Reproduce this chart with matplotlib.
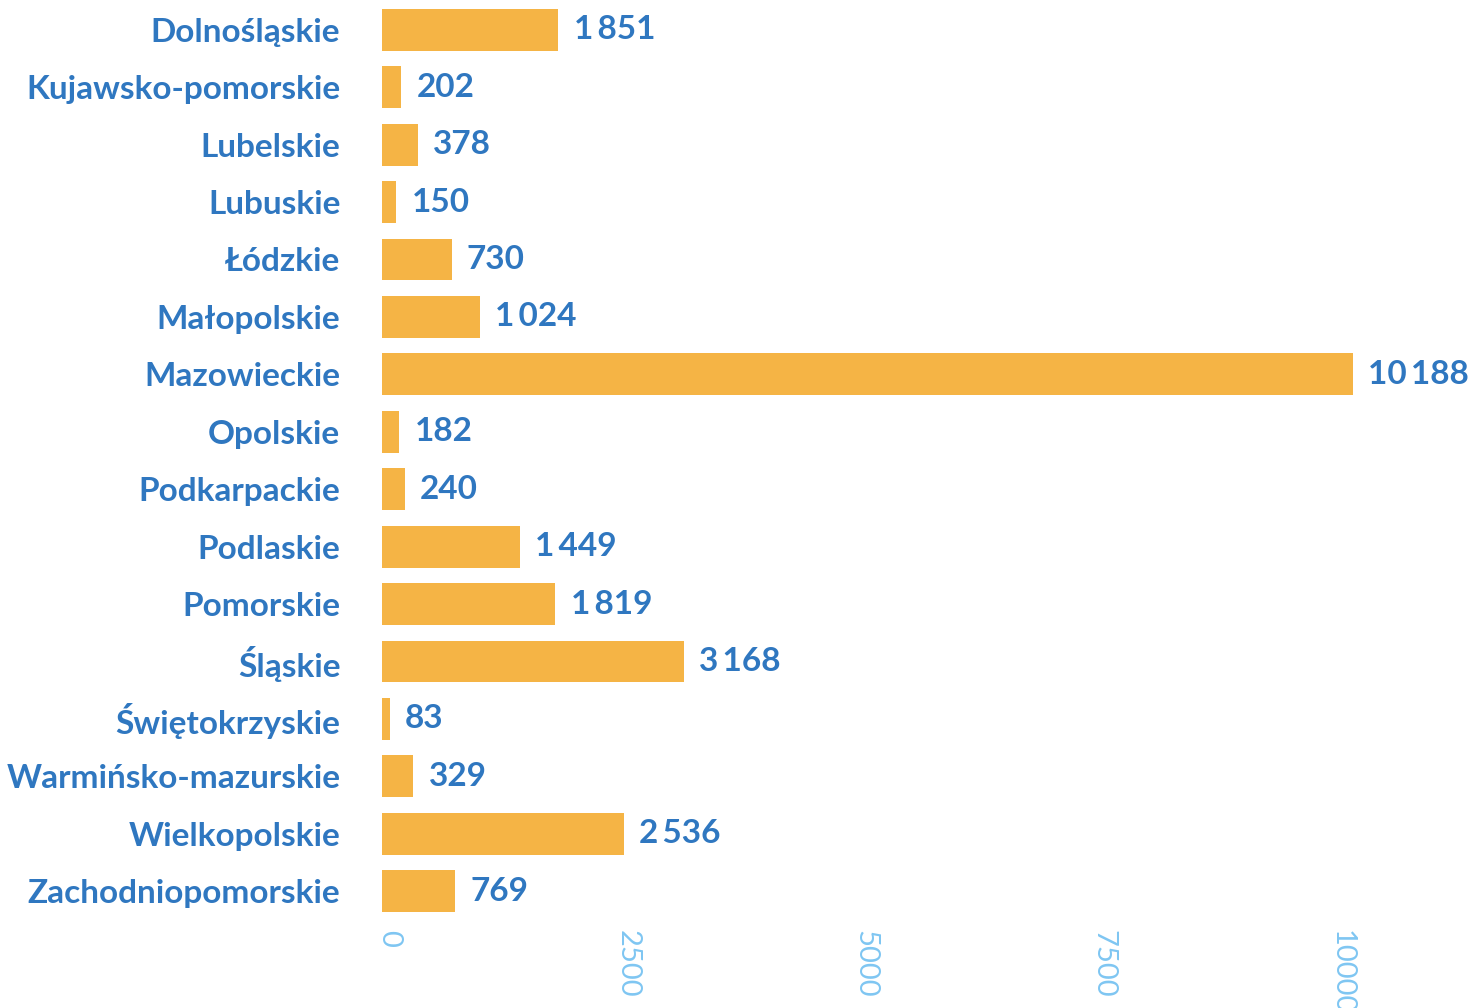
import matplotlib.pyplot as plt
import matplotlib.transforms as mtransforms

# voivodeships and counts, top to bottom as in the chart
regions = [
    "Dolnośląskie", "Kujawsko-pomorskie", "Lubelskie", "Lubuskie", "Łódzkie",
    "Małopolskie", "Mazowieckie", "Opolskie", "Podkarpackie", "Podlaskie",
    "Pomorskie", "Śląskie", "Świętokrzyskie", "Warmińsko-mazurskie",
    "Wielkopolskie", "Zachodniopomorskie",
]
counts = [1851, 202, 378, 150, 730, 1024, 10188, 182, 240, 1449, 1819, 3168,
          83, 329, 2536, 769]
xticks = [0, 2500, 5000, 7500, 10000]

bar_color = "#F5B445"
text_color = "#2F77C0"
tick_color = "#7FC6F2"

plt.rcParams["font.family"] = ["Lato", "DejaVu Sans"]

fig = plt.figure(figsize=(14.7, 10.08), dpi=100)
ax = fig.add_axes([382 / 1470, 88 / 1008, 1048 / 1470, 919 / 1008])

ypos = list(range(len(regions)))
ax.barh(ypos, counts, height=0.73, color=bar_color)
ax.set_ylim(len(regions) - 0.5, -0.5)
ax.set_xlim(0, 11000)

ax.set_yticks(ypos)
ax.set_yticklabels(regions, fontsize=24, fontweight="bold", color=text_color)
ax.tick_params(axis="both", length=0)
ax.tick_params(axis="y", pad=30)

# x tick labels drawn by hand, rotated to read top-down
ax.set_xticks(xticks)
ax.set_xticklabels([])
tick_trans = ax.get_xaxis_transform() + mtransforms.ScaledTranslation(
    -0.06, -0.10, fig.dpi_scale_trans)
for t in xticks:
    ax.text(t, 0, str(t), transform=tick_trans, rotation=270, fontsize=21,
            color=tick_color, ha="left", va="top", clip_on=False)

for y, v in zip(ypos, counts):
    label = f"{v:,}".replace(",", "\u2009")
    ax.annotate(label, (v, y), xytext=(11, 0), textcoords="offset points",
                va="center", ha="left", fontsize=24, fontweight="bold",
                color=text_color)

for s in ax.spines.values():
    s.set_visible(False)

fig.savefig("out.png", dpi=100)
